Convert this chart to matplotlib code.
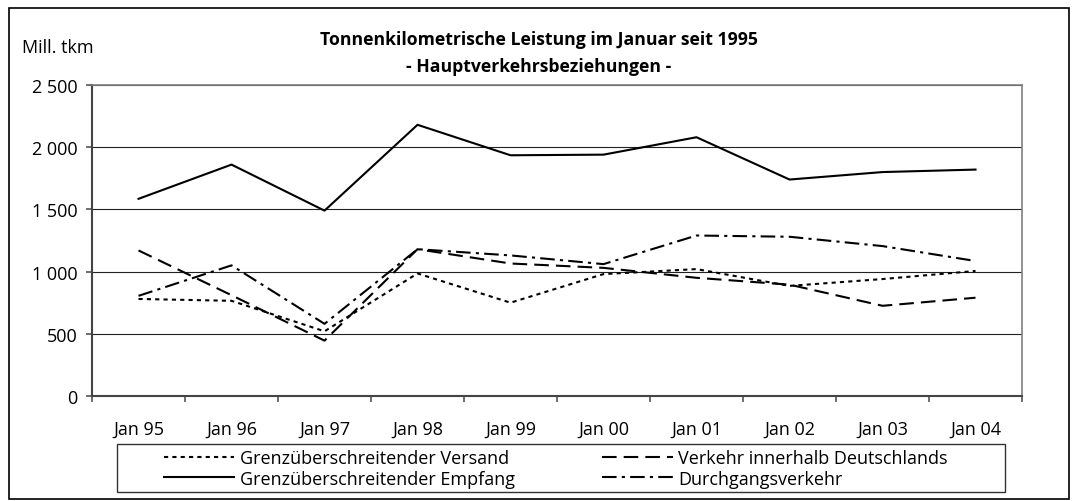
import matplotlib.pyplot as plt
from matplotlib.patches import Rectangle
from matplotlib.ticker import FuncFormatter, FixedLocator

plt.rcParams['font.family'] = ['Open Sans', 'DejaVu Sans']

# data (Mill. tkm, January of each year)
months = ['Jan 95', 'Jan 96', 'Jan 97', 'Jan 98', 'Jan 99',
          'Jan 00', 'Jan 01', 'Jan 02', 'Jan 03', 'Jan 04']
versand = [780, 765, 520, 985, 750, 980, 1020, 885, 940, 1005]
empfang = [1585, 1860, 1490, 2180, 1935, 1940, 2080, 1740, 1800, 1820]
inland = [1170, 810, 445, 1180, 1065, 1030, 950, 895, 725, 790]
durchgang = [805, 1050, 580, 1180, 1130, 1060, 1290, 1280, 1205, 1085]

fig = plt.figure(figsize=(10.75, 5.02), dpi=100)
ax = fig.add_axes([0.0856, 0.2092, 0.8651, 0.6195])

x = range(len(months))
l1, = ax.plot(x, versand, color='black', lw=1.5, linestyle=(0, (2, 2)))
l2, = ax.plot(x, empfang, color='black', lw=1.5, linestyle='-')
l3, = ax.plot(x, inland, color='black', lw=1.5, linestyle=(0, (7, 3.4)))
l4, = ax.plot(x, durchgang, color='black', lw=1.5, linestyle=(0, (7, 2.5, 1.5, 2.5)))

ax.set_xlim(-0.5, len(months) - 0.5)
ax.set_ylim(0, 2500)
ax.set_yticks([0, 500, 1000, 1500, 2000, 2500])
ax.yaxis.set_major_formatter(FuncFormatter(lambda v, p: f'{int(v):,}'.replace(',', ' ')))
ax.set_xticks(list(x))
ax.set_xticklabels(months)
ax.xaxis.set_minor_locator(FixedLocator([i - 0.5 for i in range(len(months) + 1)]))
ax.tick_params(axis='x', which='major', length=0, pad=17, labelsize=13)
ax.tick_params(axis='x', which='minor', length=4, width=1.2, color='#555555')
ax.tick_params(axis='y', length=4.3, width=1.2, color='#555555', labelsize=13, pad=6)
ax.grid(axis='y', color='#222222', lw=0.8)
ax.set_axisbelow(True)
for s in ['right', 'top']:
    ax.spines[s].set_color('#808080')
    ax.spines[s].set_linewidth(1.2)
for s in ['left', 'bottom']:
    ax.spines[s].set_color('#444444')
    ax.spines[s].set_linewidth(1.5)

fig.text(0.501, 0.920, 'Tonnenkilometrische Leistung im Januar seit 1995',
         ha='center', va='center', fontsize=12.7, fontweight='bold')
fig.text(0.501, 0.866, '- Hauptverkehrsbeziehungen -',
         ha='center', va='center', fontsize=12.7, fontweight='bold')
fig.text(0.0205, 0.904, 'Mill. tkm', ha='left', va='center', fontsize=13)

leg = fig.legend([l1, l2, l3, l4],
                 ['Grenzüberschreitender Versand', 'Grenzüberschreitender Empfang',
                  'Verkehr innerhalb Deutschlands', 'Durchgangsverkehr'],
                 ncol=2, loc='center', bbox_to_anchor=(0.1442, 0.02, 0.7458, 0.09),
                 mode='expand', fontsize=13, frameon=False,
                 handlelength=3.9, handletextpad=0.3, borderpad=0,
                 labelspacing=0.15, columnspacing=2.0)

fig.patches.append(Rectangle((0.1088, 0.0179), 0.826, 0.0956, transform=fig.transFigure,
                             fill=False, edgecolor='#333333', lw=1.0))
fig.patches.append(Rectangle((0.008, 0.004), 0.986, 0.978, transform=fig.transFigure,
                             fill=False, edgecolor='black', lw=1.2))

plt.savefig('out.png', dpi=100)
